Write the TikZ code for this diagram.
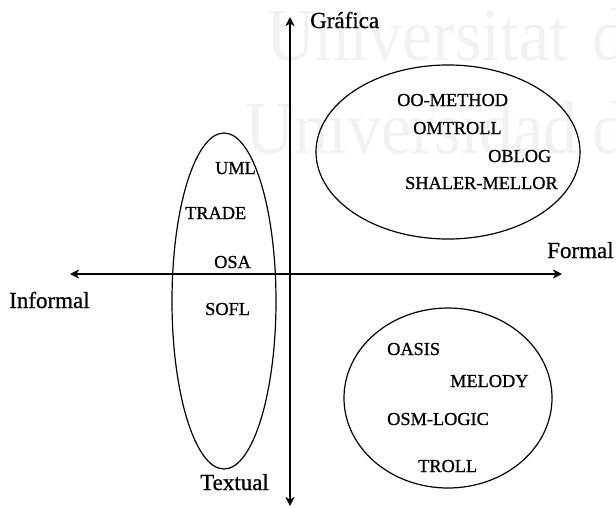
\documentclass[tikz,border=0pt]{standalone}
\usepackage{fontspec}
\setmainfont[FakeBold=0.8]{Liberation Serif}
\newfontfamily\wmfont{Liberation Serif}
\usetikzlibrary{arrows.meta,shapes.geometric}

\tikzset{
  axis/.style={line width=1.9pt, {Stealth[length=9pt,width=9pt,inset=2.5pt]}-{Stealth[length=9pt,width=9pt,inset=2.5pt]}},
  group/.style={draw, ellipse, line width=1.2pt, inner sep=0pt},
  method/.style={anchor=base west, inner sep=0pt, font=\fontsize{18.3}{18.3}\selectfont},
  pole/.style={anchor=base west, inner sep=0pt, font=\fontsize{23}{23}\selectfont},
  wmark/.style={anchor=base west, inner sep=0pt, text=black!5, font=\wmfont\fontsize{68}{68}\selectfont}
}

\begin{document}
\begin{tikzpicture}[x=1pt, y=-1pt]
  \useasboundingbox (0,0) rectangle (616,507);
  \clip (0,0) rectangle (616,507);

  % faint background lettering
  \node[wmark] (wa) at (266,60) {\scalebox{1}[1.1]{Universitat}};
  \node[wmark] (wb) at (592,60) {\scalebox{1}[1.1]{d}};
  \node[wmark] (wc) at (245,153) {\scalebox{1}[1.1]{Universidad}};
  \node[wmark] (wd) at (592,153) {\scalebox{1}[1.1]{d}};

  % axes
  \coordinate (left)   at (70,274);
  \coordinate (right)  at (562,274);
  \coordinate (top)    at (290,17);
  \coordinate (bottom) at (290,506);
  \draw[axis] (left) -- (right);
  \draw[axis] (bottom) -- (top);

  % axis labels
  \node[pole] (graf) at (310,28)  {Gráfica};
  \node[pole] (form) at (547,258) {Formal};
  \node[pole] (inf)  at (9,308)   {Informal};
  \node[pole] (text) at (200,490) {Textual};

  % groups
  \node[group, minimum width=104pt, minimum height=336pt] (gl) at (224,301) {};
  \node[group, minimum width=264pt, minimum height=174pt] (gtr) at (448,152) {};
  \node[group, minimum width=208pt, minimum height=180pt] (gbr) at (448,398) {};

  % methods
  \node[method] (oom)  at (397,106) {OO-METHOD};
  \node[method] (omt)  at (413,134) {OMTROLL};
  \node[method] (obl)  at (488,162) {OBLOG};
  \node[method] (shm)  at (405,189) {SHALER-MELLOR};

  \node[method] (uml)  at (215,174) {UML};
  \node[method] (trd)  at (185,219) {TRADE};
  \node[method] (osa)  at (214,268) {OSA};
  \node[method] (sfl)  at (205,315) {SOFL};

  \node[method] (oas)  at (387,355) {OASIS};
  \node[method] (mel)  at (450,387) {MELODY};
  \node[method] (osm)  at (387,425) {OSM-LOGIC};
  \node[method] (trl)  at (418,472) {TROLL};
\end{tikzpicture}
\end{document}
